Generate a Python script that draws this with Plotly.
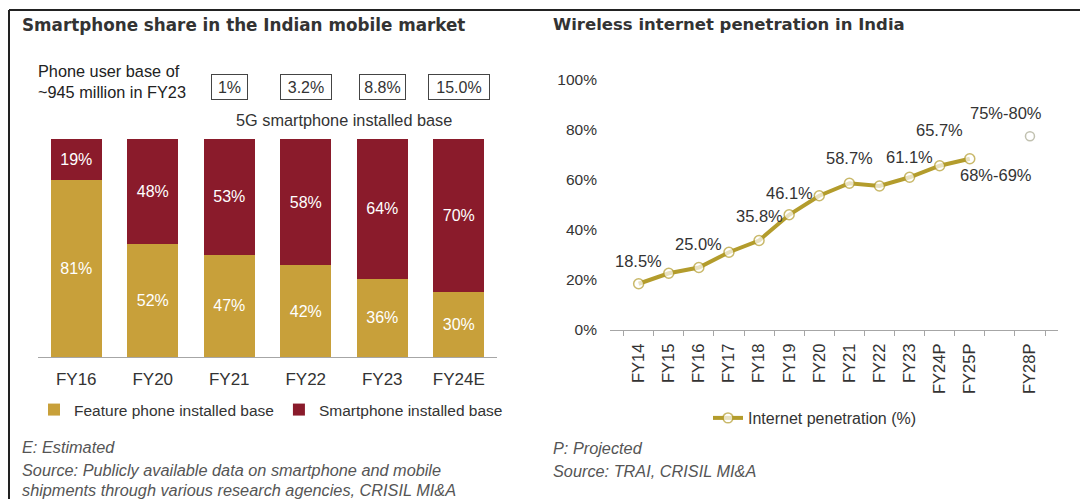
import plotly.graph_objects as go

# ---- data: smartphone share (left panel) ----
bar_years = ["FY16", "FY20", "FY21", "FY22", "FY23", "FY24E"]
feature_share = [81, 52, 47, 42, 36, 30]
smartphone_share = [19, 48, 53, 58, 64, 70]
fiveg_years = ["FY21", "FY22", "FY23", "FY24E"]
fiveg_labels = ["1%", "3.2%", "8.8%", "15.0%"]

# ---- data: wireless internet penetration (right panel) ----
pen_years = ["FY14", "FY15", "FY16", "FY17", "FY18", "FY19", "FY20", "FY21",
             "FY22", "FY23", "FY24P", "FY25P", " ", "FY28P"]
pen_values = [18.5, 22.7, 25.0, 31.1, 35.8, 46.1, 53.7, 58.7,
              57.6, 61.1, 65.7, 68.5, None, 77.5]
pen_labels = ["18.5%", "", "25.0%", "", "35.8%", "46.1%", "", "58.7%",
              "", "61.1%", "65.7%", "68%-69%", "", "75%-80%"]
# label offsets in px (xshift, yshift) - styling only
label_offsets = [(0, 23), (0, 0), (0, 24), (0, 0), (0, 25), (0, 22), (0, 0), (0, 25),
                 (0, 0), (0, 20), (0, 36), (26, -16), (0, 0), (-24, 23)]

FONT = "Liberation Sans, Arial, sans-serif"
TITLE_FONT = "DejaVu Sans, Verdana, sans-serif"
GOLD = "#C8A03A"
MAROON = "#8A1B2B"
OLIVE = "#B39C2C"
TXT = "#333333"

# the page body has an 8px margin, so the figure is drawn 8px in from the corner
OFF = 8
W, H = 1088 - OFF, 499 - OFF


def px(x):
    return (x - OFF) / W


def py(y):
    return (H - (y - OFF)) / H


fig = go.Figure()

fig.add_trace(go.Bar(
    x=bar_years, y=feature_share, name="Feature phone installed base",
    marker=dict(color=GOLD, line=dict(width=0)),
    texttemplate="%{y}%", textposition="inside", insidetextanchor="middle",
    textangle=0, insidetextfont=dict(color="white", size=16, family=FONT),
    xaxis="x", yaxis="y", legend="legend",
))
fig.add_trace(go.Bar(
    x=bar_years, y=smartphone_share, name="Smartphone installed base",
    marker=dict(color=MAROON, line=dict(width=0)),
    texttemplate="%{y}%", textposition="inside", insidetextanchor="middle",
    textangle=0, insidetextfont=dict(color="white", size=16, family=FONT),
    xaxis="x", yaxis="y", legend="legend",
))

# projected FY28P marker is lighter than the others
mk_line = [OLIVE] * len(pen_years)
mk_line[-1] = "#A8A890"
mk_size = [10] * len(pen_years)
mk_size[-1] = 9

fig.add_trace(go.Scatter(
    x=pen_years, y=pen_values, name="Internet penetration (%)",
    mode="lines+markers", connectgaps=False,
    line=dict(color=OLIVE, width=4),
    marker=dict(color="white", size=mk_size, line=dict(color=mk_line, width=1.5)),
    xaxis="x2", yaxis="y2", legend="legend2",
))

annotations = []
for yr, lab, val, (dx, dy) in zip(pen_years, pen_labels, pen_values, label_offsets):
    if lab:
        annotations.append(dict(
            x=yr, y=val, xref="x2", yref="y2", text=lab, showarrow=False,
            xanchor="center", yanchor="middle",
            xshift=dx, yshift=dy, font=dict(size=16.5, color=TXT, family=FONT)))

# 5G boxes above bars
box_w = {"1%": 29, "3.2%": 44, "8.8%": 39, "15.0%": 54}
for yr, lab in zip(fiveg_years, fiveg_labels):
    annotations.append(dict(
        x=yr, y=py(87), xref="x", yref="paper", text=lab, showarrow=False,
        xanchor="center", yanchor="middle",
        width=box_w.get(lab, 44), height=18, borderpad=3, bordercolor="#444444",
        borderwidth=1, font=dict(size=16, color=TXT, family=FONT)))

texts = [
    (20, 25, "<b>Smartphone share in the Indian mobile market</b>", 16.8, False, TXT, "left", TITLE_FONT),
    (551, 25, "<b>Wireless internet penetration in India</b>", 16.5, False, TXT, "left", TITLE_FONT),
    (36, 82, "Phone user base of<br>~945 million in FY23", 16.3, False, "#222222", "left", FONT),
    (344, 120, "5G smartphone installed base", 16.3, False, TXT, "center", FONT),
    (20, 447, "E: Estimated", 16.3, True, "#555555", "left", FONT),
    (20, 470, "Source: Publicly available data on smartphone and mobile", 16.3, True, "#555555", "left", FONT),
    (20, 490, "shipments through various research agencies, CRISIL MI&A", 16.3, True, "#555555", "left", FONT),
    (551, 448, "P: Projected", 16.3, True, "#555555", "left", FONT),
    (551, 471, "Source: TRAI, CRISIL MI&A", 16.3, True, "#555555", "left", FONT),
]
for x, y, t, s, it, c, anchor, fam in texts:
    if it:
        t = "<i>" + t + "</i>"
    annotations.append(dict(
        x=px(x), y=py(y), xref="paper", yref="paper", text=t, showarrow=False,
        xanchor=anchor, yanchor="middle", align="left",
        font=dict(size=s, color=c, family=fam)))

fig.update_layout(
    width=W, height=H, autosize=False,
    margin=dict(l=0, r=0, t=0, b=0, autoexpand=False),
    paper_bgcolor="white", plot_bgcolor="white",
    font=dict(family=FONT, color=TXT, size=15),
    barmode="stack", bargap=0.33,
    showlegend=True,
    legend=dict(orientation="h", x=px(34), y=py(410), xanchor="left", yanchor="middle",
                font=dict(size=15.5, color=TXT, family=FONT), bgcolor="rgba(0,0,0,0)",
                traceorder="normal"),
    legend2=dict(orientation="h", x=px(708), y=py(418), xanchor="left", yanchor="middle",
                 font=dict(size=16, color=TXT, family=FONT), bgcolor="rgba(0,0,0,0)"),
    xaxis=dict(domain=[px(38), px(497)], showline=True, linecolor="#A6A6A6", linewidth=1,
               ticks="", showgrid=False, tickfont=dict(size=17, color=TXT, family=FONT),
               ticklabelstandoff=7, fixedrange=True, automargin=False),
    yaxis=dict(domain=[py(357), py(139)], range=[0, 100], visible=False, fixedrange=True,
               automargin=False),
    xaxis2=dict(domain=[px(610), px(1058)], anchor="y2", showline=True, linecolor="#A6A6A6",
                ticks="outside", ticklen=5, tickcolor="#A6A6A6", tickson="boundaries",
                tickangle=-90, showgrid=False, tickfont=dict(size=16.5, color=TXT, family=FONT),
                ticklabelstandoff=6, fixedrange=True, automargin=False),
    yaxis2=dict(domain=[py(330), py(80)], anchor="x2", range=[0, 100], dtick=20,
                ticksuffix="%", showgrid=False, zeroline=False, showline=False,
                tickfont=dict(size=15.5, color=TXT, family=FONT), ticklabelstandoff=12,
                fixedrange=True, automargin=False),
    annotations=annotations,
    shapes=[
        dict(type="line", xref="paper", yref="paper", x0=px(9), x1=1, y0=py(10), y1=py(10),
             line=dict(color="#222222", width=2)),
        dict(type="line", xref="paper", yref="paper", x0=px(9), x1=px(9), y0=0, y1=py(10),
             line=dict(color="#222222", width=2)),
    ],
)

fig.write_html("out.html")
